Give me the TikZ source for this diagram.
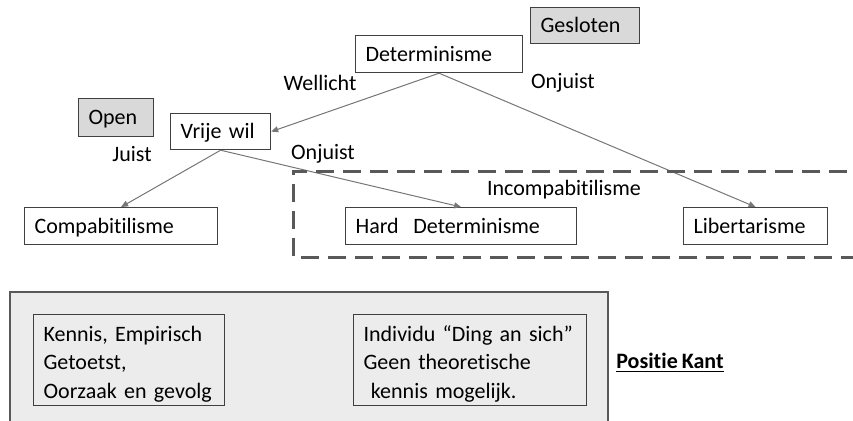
\documentclass[tikz,border=0pt]{standalone}
\usepackage{fontspec}
\setmainfont{Carlito}[Ligatures=NoCommon,WordSpace=0.8]
\usepackage{xcolor}
\definecolor{Col1}{RGB}{64,64,64}
\definecolor{Col2}{RGB}{118,118,118}
\definecolor{Col3}{RGB}{217,217,217}
\definecolor{Col4}{RGB}{236,236,236}
\definecolor{Col5}{RGB}{89,89,89}
\usepackage{tikz}
\usetikzlibrary{arrows.meta}
\tikzstyle{Base}=[rectangle,draw=Col1,line width=.6pt,anchor=north west,
inner xsep=5pt,inner ysep=2pt,align=left,font=\fontsize{11}{14.25}\selectfont]
\tikzstyle{Box}=[Base,text height=9pt,text depth=2pt]
\tikzstyle{GreyBox}=[Box,fill=Col3]
\tikzstyle{InBox}=[Base,fill=Col4,inner ysep=0pt,text height=11.5pt]
\tikzstyle{Edge}=[draw=Col2,line width=.5pt,-{Triangle[length=3.5pt,width=3pt]}]
\tikzstyle{Frame}=[draw=Col5,line width=1.5pt,dash pattern=on 9pt off 4.5pt]
\tikzstyle{NodeST}=[font=\fontsize{11}{14.25}\selectfont]

\begin{document}
\begin{tikzpicture}[x=.5pt,y=-.5pt]
        \useasboundingbox(0,0)rectangle(853,420);
        \clip(0,0)rectangle(853,420);
        % boom
        \node[Box,text width=73.5pt,minimum height=18.5pt](det)at(355,35){Determinisme};
        \node[GreyBox,text width=44.5pt,minimum height=18pt](gesl)at(530,7){Gesloten};
        \node[GreyBox,text width=27.5pt,minimum height=19pt](open)at(78,98){Open};
        \node[Box,text width=40pt,minimum height=18pt](vrij)at(170,113){Vrije wil};
        \node[Box,text width=86.5pt,minimum height=18.5pt](comp)at(24,207){Compabitilisme};
        \node[Box,text width=105.5pt,minimum height=18.5pt](hard)at(345,207){Hard\ \ Determinisme};
        \node[Box,text width=62pt,minimum height=18.5pt](libe)at(683,207){Libertarisme};
        \node[NodeST](l1)at(320,83){Wellicht};
        \node[NodeST](l2)at(563,83){Onjuist};
        \node[NodeST](l3)at(132,154){Juist};
        \node[NodeST](l4)at(323,154){Onjuist};
        \node[NodeST](l5)at(564,190){Incompabitilisme};
        \draw[Edge](det.south)--(vrij.east);
        \draw[Edge](det.south)--(libe.north);
        \draw[Edge](vrij.south)--(comp.north);
        \draw[Edge](vrij.south)--(hard.north);
        \draw[Frame](847,171)--(293,171)--(293,257)--(853,257);
        % Kant
        \draw[draw=Col5,fill=Col4,line width=1pt](10,292)rectangle(608,440);
        \node[InBox,text width=85.5pt,minimum height=45.5pt](kenn)at(33,314)
            {Kennis, Empirisch\\Getoetst,\\Oorzaak en gevolg};
        \node[InBox,text width=106.5pt,minimum height=45.5pt](indi)at(353,314)
            {Individu “Ding an sich”\\Geen theoretische\\\ kennis mogelijk.};
        \node[NodeST](kant)at(670,363){\underline{\textbf{Positie Kant}}};
    \end{tikzpicture}
\end{document}
